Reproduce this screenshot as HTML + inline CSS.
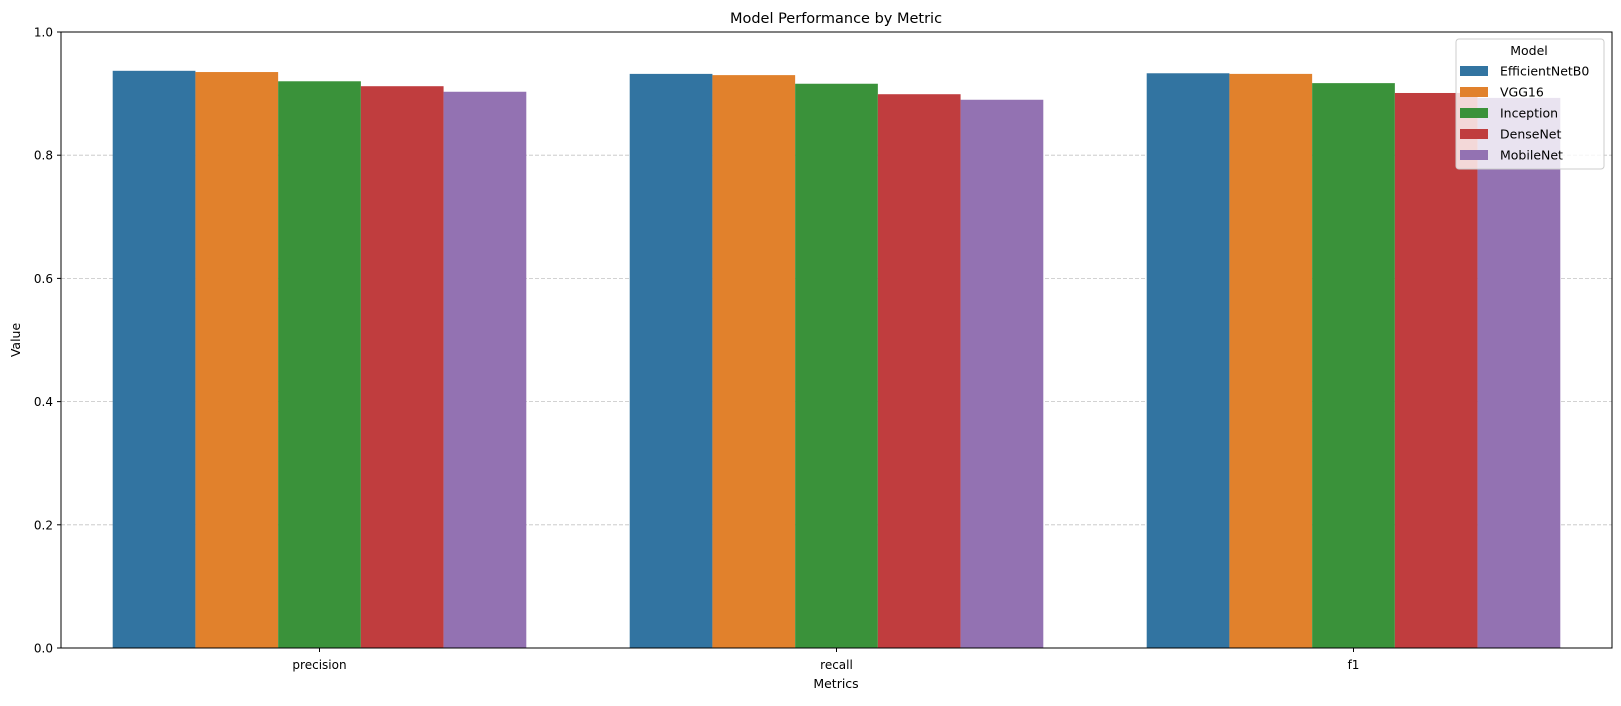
<!DOCTYPE html>
<html><head><meta charset="utf-8"><style>
body{margin:0;background:#fff;}
svg text{font-family:"DejaVu Sans","Liberation Sans",sans-serif;fill:#000;}
</style></head><body>
<svg id="chart" width="1621" height="701" xmlns="http://www.w3.org/2000/svg">
<rect width="1621" height="701" fill="#fff"/>
<g id="grid"></g><g id="bars"></g><g id="axes"></g>
<text x="836" y="23" text-anchor="middle" font-size="14.5">Model Performance by Metric</text>
<text x="836" y="688" text-anchor="middle" font-size="12.5">Metrics</text>
<text x="20" y="340" text-anchor="middle" font-size="12.5" transform="rotate(-90 20 340)">Value</text>
<g id="legend"></g>
</svg>
<script>
const categories=["precision","recall","f1"];
const models=["EfficientNetB0","VGG16","Inception","DenseNet","MobileNet"];
const colors=["#3274a1","#e1812c","#3a923a","#c03d3e","#9372b2"];
const effnet=[0.937,0.932,0.933];
const vgg16=[0.935,0.930,0.932];
const inception=[0.920,0.916,0.917];
const densenet=[0.912,0.899,0.901];
const mobilenet=[0.903,0.890,0.893];
const yTicks=[0,0.2,0.4,0.6,0.8,1.0];
const tickLabels=["0.0","0.2","0.4","0.6","0.8","1.0"];
const series=[effnet,vgg16,inception,densenet,mobilenet];
const L=61,R=1612,T=32,B=648;
const ns="http://www.w3.org/2000/svg";
function y(v){return B-(v/1.0)*(B-T);}
function x(i){return L+(i+0.5)*(R-L)/categories.length;}
function mk(tag,attrs,parent){const e=document.createElementNS(ns,tag);for(const k in attrs)e.setAttribute(k,attrs[k]);parent.appendChild(e);return e;}
const grid=document.getElementById('grid'),bars=document.getElementById('bars'),axes=document.getElementById('axes'),leg=document.getElementById('legend');
yTicks.forEach((t,i)=>{
 if(t>0&&t<1){const g=mk('line',{x1:L,x2:R,y1:y(t),y2:y(t),stroke:'#c4c4c4','stroke-dasharray':'4,2','stroke-width':0.8},grid);
 
 }
 mk('line',{x1:L-4,x2:L,y1:y(t),y2:y(t),stroke:'#000'},axes);
 const tx=mk('text',{x:L-8,y:y(t)+4.5,'text-anchor':'end','font-size':12},axes);tx.textContent=tickLabels[i];
 
 
});
const step=(R-L)/categories.length,bw=step*0.8/models.length;
categories.forEach((c,ci)=>{
 series.forEach((s,si)=>{
  const x0=x(ci)-step*0.4+si*bw;
  const r=mk('rect',{x:x0,y:y(s[ci]),width:bw,height:B-y(s[ci]),fill:colors[si]},bars);
  
  
 });
 mk('line',{x1:x(ci),x2:x(ci),y1:B,y2:B+4,stroke:'#000'},axes);
 const tx=mk('text',{x:x(ci),y:B+21,'text-anchor':'middle','font-size':12},axes);tx.textContent=c;
 
 
});
mk('rect',{x:L,y:T,width:R-L,height:B-T,fill:'none',stroke:'#000','stroke-width':1},axes);
mk('rect',{x:1456,y:39,width:148,height:130,rx:3,fill:'rgba(255,255,255,0.8)',stroke:'#ccc'},leg);
const lt=mk('text',{x:1529,y:55,'text-anchor':'middle','font-size':12.5},leg);lt.textContent='Model';
models.forEach((m,i)=>{
 const yy=71+i*21;
 const sw=mk('rect',{x:1460,y:yy-5,width:28,height:10,fill:colors[i]},leg);
 
 
 const t=mk('text',{x:1500,y:yy+4.5,'font-size':12.5},leg);t.textContent=m;
 
 
});
</script>
</body></html>
